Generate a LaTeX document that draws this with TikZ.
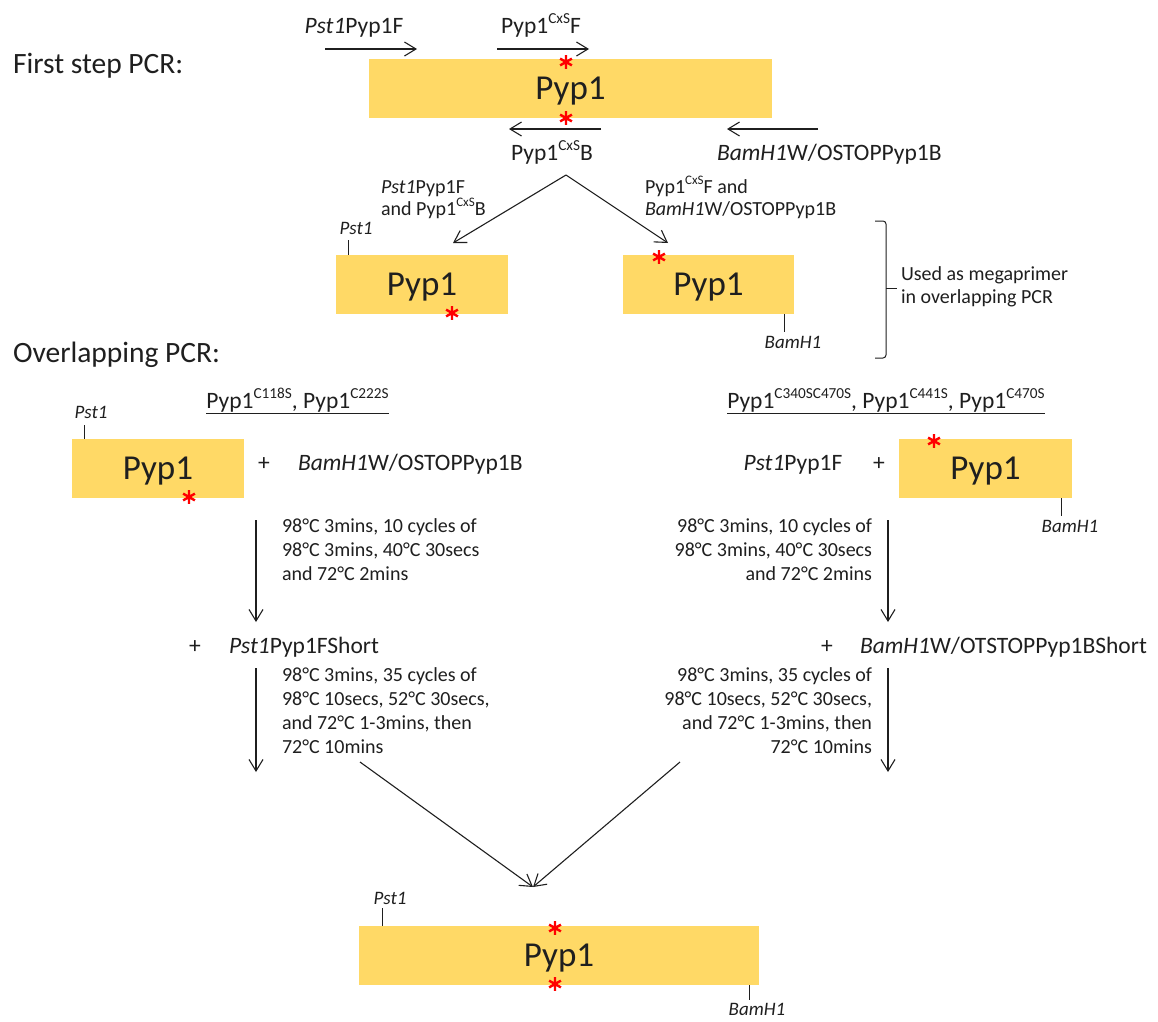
\documentclass[tikz,border=0pt]{standalone}
\usepackage{fontspec}
\setmainfont{Carlito}
\usetikzlibrary{arrows.meta}
\definecolor{genefill}{HTML}{FFD966}
\definecolor{ink}{HTML}{1F1F1F}
\newcommand\sps[1]{\raisebox{0.42em}{\scalebox{0.65}{#1}}}
\newcommand\fsz[2]{\fontsize{#1}{#2}\selectfont}
\tikzset{
  astmark/.pic={\draw[red, line width=2.4pt] (0,-6.8)--(0,6.8) (-5.9,-3.4)--(5.9,3.4) (-5.9,3.4)--(5.9,-3.4);}
}
\begin{document}
\begin{tikzpicture}[x=1pt,y=-1pt,
  every node/.style={inner sep=0pt, outer sep=0pt, text=ink},
  head/.style={font=\fsz{29.5}{35}, anchor=base west},
  primer/.style={font=\fsz{23.5}{28}, anchor=base},
  midlab/.style={font=\fsz{20}{24}, anchor=base west},
  cond/.style={font=\fsz{20}{24}, anchor=base west},
  condr/.style={font=\fsz{20}{24}, anchor=base east},
  site/.style={font=\fsz{19}{22}\itshape, anchor=base},
  genebox/.style={fill=genefill, draw=none, minimum height=59pt, text depth=0pt, font=\fsz{35}{40}},
  arr/.style={draw=ink, line width=1.1pt, -{Straight Barb[length=11.5pt,width=14pt]}},
  tickline/.style={draw=ink, line width=1pt}
]
\useasboundingbox[fill=white] (0,0) rectangle (1158,1021);

% headings
\node[head] (h1) at (13,73) {First step PCR:};
\node[head] (h2) at (13,362) {Overlapping PCR:};

% ---------- first step ----------
\node[genebox, minimum width=403pt] (g1) at (570.5,88.5) {Pyp1};
\pic at (566,62) {astmark};
\pic at (566,118) {astmark};

\node[primer] (p1) at (354,33) {\textit{Pst1}Pyp1F};
\node[primer] (p2) at (541,33) {Pyp1\sps{CxS}F};
\node[primer] (p3) at (552,160) {Pyp1\sps{CxS}B};
\node[primer, anchor=base west] (p4) at (717,160) {\textit{BamH1}W/OSTOPPyp1B};

\coordinate (a1s) at (325,49);  \coordinate (a1e) at (417,49);
\coordinate (a2s) at (497,49);  \coordinate (a2e) at (589,49);
\coordinate (a3s) at (601,129); \coordinate (a3e) at (509,129);
\coordinate (a4s) at (818,129); \coordinate (a4e) at (727,129);
\draw[arr] (a1s) -- (a1e);
\draw[arr] (a2s) -- (a2e);
\draw[arr] (a3s) -- (a3e);
\draw[arr] (a4s) -- (a4e);

% branches
\coordinate (apex) at (566,175);
\coordinate (bl) at (453,243);
\coordinate (br) at (668,243);
\draw[arr] (apex) -- (bl);
\draw[arr] (apex) -- (br);

\node[midlab] (l1) at (381,193) {\textit{Pst1}Pyp1F};
\node[midlab] (l2) at (381,215) {and Pyp1\sps{CxS}B};
\node[midlab] (r1) at (645,193) {Pyp1\sps{CxS}F and};
\node[midlab] (r2) at (645,215) {\textit{BamH1}W/OSTOPPyp1B};

\node[genebox, minimum width=172pt] (g2) at (422,284.5) {Pyp1};
\node[genebox, minimum width=171pt] (g3) at (708.5,284.5) {Pyp1};
\pic at (452,313) {astmark};
\pic at (659,257) {astmark};

\coordinate (t1a) at (348,240); \coordinate (t1b) at (348,255);
\draw[tickline] (t1a) -- (t1b);
\node[site] (s1) at (356,234) {Pst1};
\coordinate (t2a) at (784,314); \coordinate (t2b) at (784,332);
\draw[tickline] (t2a) -- (t2b);
\node[site] (s2) at (793,348) {BamH1};

% bracket
\coordinate (bk1) at (875,221); \coordinate (bk2) at (886,221);
\coordinate (bk3) at (886,358); \coordinate (bk4) at (875,358);
\coordinate (bkm) at (886,288); \coordinate (bkt) at (897,288);
\draw[tickline, rounded corners=3pt] (bk1) -- (bk2) -- (bk3) -- (bk4);
\draw[tickline] (bkm) -- (bkt);
\node[midlab] (u1) at (901,280) {Used as megaprimer};
\node[midlab] (u2) at (901,303) {in overlapping PCR};

% ---------- overlapping PCR ----------
\node[primer] (ul) at (297.5,408) {\underline{Pyp1\sps{C118S}, Pyp1\sps{C222S}}};
\node[primer] (ur) at (886,408) {\underline{Pyp1\sps{C340SC470S}, Pyp1\sps{C441S}, Pyp1\sps{C470S}}};

% left
\node[genebox, minimum width=172pt] (g4) at (158,468.5) {Pyp1};
\pic at (189,497) {astmark};
\coordinate (t3a) at (84,425); \coordinate (t3b) at (84,439);
\draw[tickline] (t3a) -- (t3b);
\node[site] (s3) at (91,418) {Pst1};
\node[primer] (plus1) at (264,470) {+};
\node[primer, anchor=base west] (m1) at (298,470) {\textit{BamH1}W/OSTOPPyp1B};

% right
\node[primer] (m2) at (793,470) {\textit{Pst1}Pyp1F};
\node[primer] (plus2) at (879,470) {+};
\node[genebox, minimum width=173pt] (g5) at (985.5,468.5) {Pyp1};
\pic at (934,441) {astmark};
\coordinate (t4a) at (1061,498); \coordinate (t4b) at (1061,516);
\draw[tickline] (t4a) -- (t4b);
\node[site] (s4) at (1070,532) {BamH1};

% first conditions
\node[cond] (c1a) at (282,532) {98°C 3mins, 10 cycles of};
\node[cond] (c1b) at (282,556) {98°C 3mins, 40°C 30secs};
\node[cond] (c1c) at (282,580) {and 72°C 2mins};
\node[condr] (c2a) at (872,532) {98°C 3mins, 10 cycles of};
\node[condr] (c2b) at (872,556) {98°C 3mins, 40°C 30secs};
\node[condr] (c2c) at (872,580) {and 72°C 2mins};

\coordinate (v1s) at (256,520); \coordinate (v1e) at (256,622);
\coordinate (v2s) at (888,520); \coordinate (v2e) at (888,622);
\draw[arr] (v1s) -- (v1e);
\draw[arr] (v2s) -- (v2e);

\node[primer] (plus3) at (195,653) {+};
\node[primer, anchor=base west] (sh1) at (229,653) {\textit{Pst1}Pyp1FShort};
\node[primer] (plus4) at (827,653) {+};
\node[primer, anchor=base west] (sh2) at (860,653) {\textit{BamH1}W/OTSTOPPyp1BShort};

\coordinate (v3s) at (256,668); \coordinate (v3e) at (256,772);
\coordinate (v4s) at (888,668); \coordinate (v4e) at (888,772);
\draw[arr] (v3s) -- (v3e);
\draw[arr] (v4s) -- (v4e);

% second conditions
\node[cond] (c3a) at (282,681) {98°C 3mins, 35 cycles of};
\node[cond] (c3b) at (282,705) {98°C 10secs, 52°C 30secs,};
\node[cond] (c3c) at (282,729) {and 72°C 1-3mins, then};
\node[cond] (c3d) at (282,753) {72°C 10mins};
\node[condr] (c4a) at (872,681) {98°C 3mins, 35 cycles of};
\node[condr] (c4b) at (872,705) {98°C 10secs, 52°C 30secs,};
\node[condr] (c4c) at (872,729) {and 72°C 1-3mins, then};
\node[condr] (c4d) at (872,753) {72°C 10mins};

% converging
\coordinate (cvl) at (360,762);
\coordinate (cvr) at (680,762);
\coordinate (cvm) at (533,887);
\draw[arr] (cvl) -- (cvm);
\draw[arr] (cvr) -- (cvm);

% final
\node[genebox, minimum width=400pt] (g6) at (559,955.5) {Pyp1};
\pic at (555,928) {astmark};
\pic at (555,984) {astmark};
\coordinate (t5a) at (382,908); \coordinate (t5b) at (382,926);
\draw[tickline] (t5a) -- (t5b);
\node[site] (s5) at (390,904) {Pst1};
\coordinate (t6a) at (749,985); \coordinate (t6b) at (749,1000);
\draw[tickline] (t6a) -- (t6b);
\node[site] (s6) at (757,1015) {BamH1};
\end{tikzpicture}
\end{document}
